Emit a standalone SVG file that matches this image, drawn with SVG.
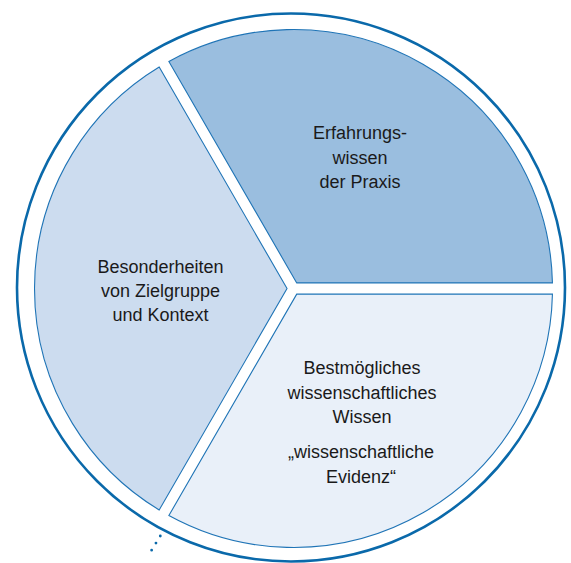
<svg xmlns="http://www.w3.org/2000/svg" width="571" height="563" viewBox="0 0 571 563">
<style>
.sector{stroke:#1f74b6;stroke-width:1.1;stroke-linejoin:miter}
.lbl{font-family:"Liberation Sans",Arial,sans-serif;font-size:18px;fill:#1a1a1a;text-anchor:middle}
</style>
<rect width="571" height="563" fill="#ffffff"/>
<circle id="outer-ring" cx="291" cy="287.5" r="274" fill="none" stroke="#0a69aa" stroke-width="2.6"/>
<g id="node-erfahrung">
<path class="sector" fill="#9abedf" d="M296.73,282.9 L552.44,282.9 A259,259 0 0 0 168.88,61.46 Z"/>
<text class="lbl" x="360" y="139">Erfahrungs-</text>
<text class="lbl" x="360" y="163.5">wissen</text>
<text class="lbl" x="360" y="188">der Praxis</text>
</g>
<g id="node-besonderheiten">
<path class="sector" fill="#ccdcef" d="M287.03,288.5 L159.18,67.06 A259,259 0 0 0 159.18,509.94 Z"/>
<text class="lbl" x="160.5" y="272.7">Besonderheiten</text>
<text class="lbl" x="160.5" y="296.7">von Zielgruppe</text>
<text class="lbl" x="160.5" y="320.7">und Kontext</text>
</g>
<g id="node-wissen">
<path class="sector" fill="#e9f0f9" d="M296.73,294.1 L168.88,515.54 A259,259 0 0 0 552.44,294.1 Z"/>
<text class="lbl" x="362" y="374">Bestmögliches</text>
<text class="lbl" x="362" y="398.5">wissenschaftliches</text>
<text class="lbl" x="362" y="423">Wissen</text>
<text class="lbl" x="361" y="458.3">„wissenschaftliche</text>
<text class="lbl" x="361" y="482.7">Evidenz“</text>
</g>
<g id="connectors">
<line x1="160.3" y1="536" x2="147.3" y2="557.3" stroke="#0a69aa" stroke-width="2.8" stroke-linecap="round" stroke-dasharray="0 8.32"/>
</g>
</svg>
